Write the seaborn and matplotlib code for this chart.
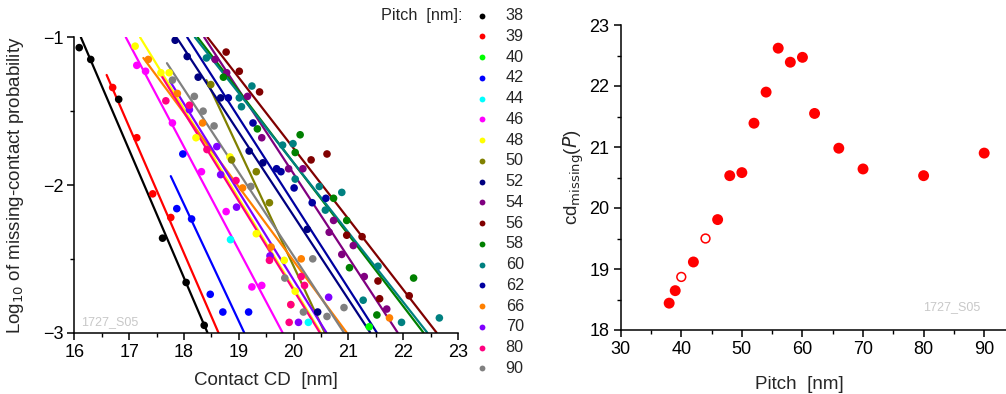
import numpy as np
import pandas as pd
import matplotlib
matplotlib.use("Agg")
import matplotlib.pyplot as plt
from matplotlib.lines import Line2D
from matplotlib.ticker import MultipleLocator
import seaborn as sns

sns.set_theme(style="ticks")
plt.rcParams['font.family'] = ['Liberation Sans', 'DejaVu Sans']
plt.rcParams['axes.unicode_minus'] = True

# ---------------- data: left panel (contact CD vs log10 probability) ----------------
pitches = [38, 39, 40, 42, 44, 46, 48, 50, 52, 54, 56, 58, 60, 62, 66, 70, 80, 90]
colors = ['#000000', '#FF0000', '#00FF00', '#0000FF', '#00FFFF', '#FF00FF', '#FFFF00',
          '#808000', '#000080', '#800080', '#800000', '#008000', '#008080', '#0000A0',
          '#FF8000', '#8000FF', '#FF0080', '#808080']

cd38 = [16.09, 16.30, 16.81, 17.61, 18.04, 18.37]
lp38 = [-1.07, -1.15, -1.42, -2.36, -2.66, -2.95]
cd39 = [16.70, 17.14, 17.43, 17.76]
lp39 = [-1.34, -1.68, -2.06, -2.22]
cd40 = [21.38]
lp40 = [-2.96]
cd42 = [17.98, 17.87, 18.14, 18.48, 18.71, 19.18]
lp42 = [-1.79, -2.16, -2.23, -2.74, -2.86, -2.86]
cd44 = [18.85, 20.27]
lp44 = [-2.37, -2.93]
cd46 = [17.14, 17.30, 17.79, 18.32, 18.77, 19.24, 19.42]
lp46 = [-1.19, -1.23, -1.58, -1.91, -2.18, -2.69, -2.68]
cd48 = [17.11, 17.58, 17.73, 18.22, 18.84, 19.32, 19.83, 20.03, 19.95]
lp48 = [-1.06, -1.24, -1.24, -1.68, -1.81, -2.33, -2.51, -2.72, -2.81]
cd50 = [18.49, 18.87, 19.32, 19.56]
lp50 = [-1.32, -1.83, -1.91, -2.12]
cd52 = [17.84, 18.06, 18.26, 18.67, 19.19, 19.44, 20.25, 20.44]
lp52 = [-1.02, -1.13, -1.27, -1.41, -1.77, -1.85, -2.30, -2.86]
cd54 = [18.57, 18.78, 19.16, 19.42, 19.91, 20.17, 20.65, 20.73, 20.88, 21.09, 21.29, 21.70]
lp54 = [-1.15, -1.24, -1.40, -1.68, -1.89, -1.89, -2.32, -2.24, -2.47, -2.41, -2.62, -2.84]
cd56 = [18.77, 19.01, 19.38, 20.32, 20.61, 20.97, 21.25, 21.54, 21.57, 22.11]
lp56 = [-1.10, -1.23, -1.37, -1.83, -1.79, -2.34, -2.35, -2.65, -2.77, -2.75]
cd58 = [18.72, 19.34, 20.12, 20.03, 20.73, 20.97, 21.02, 22.19, 21.52]
lp58 = [-1.27, -1.62, -1.66, -1.78, -2.09, -2.24, -2.56, -2.63, -2.88]
cd60 = [18.41, 19.01, 19.05, 19.24, 19.80, 19.99, 20.03, 20.47, 20.58, 20.88, 21.27, 21.54, 21.97, 22.66]
lp60 = [-1.14, -1.41, -1.47, -1.33, -1.73, -1.72, -1.96, -2.01, -2.17, -2.05, -2.78, -2.55, -2.93, -2.90]
cd62 = [18.81, 19.26, 19.69, 19.77, 20.01, 20.34, 20.59]
lp62 = [-1.41, -1.58, -1.89, -1.91, -2.02, -2.12, -2.09]
cd66 = [17.35, 17.88, 18.34, 19.07, 19.59, 20.14, 21.75]
lp66 = [-1.15, -1.38, -1.58, -2.02, -2.42, -2.50, -2.90]
cd70 = [18.10, 18.60, 18.67, 18.96, 19.57, 20.64, 20.09]
lp70 = [-1.49, -1.74, -1.93, -2.15, -2.48, -2.76, -2.93]
cd80 = [17.67, 18.10, 18.42, 18.95, 19.56, 20.14, 20.20, 19.92, 19.95]
lp80 = [-1.43, -1.46, -1.76, -1.97, -2.51, -2.62, -2.68, -2.93, -2.81]
cd90 = [17.79, 18.19, 18.35, 18.55, 19.22, 20.35, 19.84, 20.92, 20.61, 20.18]
lp90 = [-1.29, -1.40, -1.50, -1.60, -2.01, -2.50, -2.63, -2.83, -2.89, -2.86]

cd_lists = [cd38, cd39, cd40, cd42, cd44, cd46, cd48, cd50, cd52, cd54, cd56, cd58,
            cd60, cd62, cd66, cd70, cd80, cd90]
lp_lists = [lp38, lp39, lp40, lp42, lp44, lp46, lp48, lp50, lp52, lp54, lp56, lp58,
            lp60, lp62, lp66, lp70, lp80, lp90]

# fitted lines (start point and end point)
fit_pitch = [38, 39, 42, 46, 48, 50, 52, 54, 56, 58, 60, 62, 66, 70, 80, 90]
fit_x0 = [16.12, 16.59, 17.76, 16.94, 17.20, 18.41, 17.90, 18.37, 18.43, 18.25, 18.20, 18.06, 17.26, 17.75, 17.59, 17.69]
fit_y0 = [-1.0, -1.255, -1.94, -1.0, -1.0, -1.29, -1.02, -1.0, -1.0, -1.0, -1.0, -1.0, -1.14, -1.30, -1.26, -1.175]
fit_x1 = [18.43, 18.63, 19.10, 19.80, 20.50, 20.57, 21.40, 21.90, 22.61, 22.37, 22.44, 21.52, 20.97, 20.60, 20.48, 20.92]
fit_y1 = [-3.0] * 16

# ---------------- data: right panel ----------------
pitch_filled = [38, 39, 42, 46, 48, 50, 52, 54, 56, 58, 60, 62, 66, 70, 80, 90]
cdmiss_filled = [18.44, 18.645, 19.115, 19.81, 20.53, 20.58, 21.39, 21.90, 22.62, 22.39,
                 22.47, 21.55, 20.98, 20.64, 20.53, 20.90]
pitch_open = [40, 44]
cdmiss_open = [18.87, 19.50]

# ---------------- build tables ----------------
palette = {str(p): c for p, c in zip(pitches, colors)}
rows = []
for p, xs, ys in zip(pitches, cd_lists, lp_lists):
    for x, y in zip(xs, ys):
        rows.append((str(p), x, y))
pts = pd.DataFrame(rows, columns=['pitch', 'cd', 'lp'])

lrows = []
for p, x0, y0, x1, y1 in zip(fit_pitch, fit_x0, fit_y0, fit_x1, fit_y1):
    lrows.append((str(p), 0, x0, y0))
    lrows.append((str(p), 1, x1, y1))
lines = pd.DataFrame(lrows, columns=['pitch', 'k', 'cd', 'lp'])

W, H = 1006, 394
fig = plt.figure(figsize=(W / 100, H / 100), dpi=100)

def px_axes(x0, y0, x1, y1):
    return fig.add_axes([x0 / W, 1 - y1 / H, (x1 - x0) / W, (y1 - y0) / H])

tick_fs = 13

# ---------------- left panel ----------------
ax1 = px_axes(74.3, 37.3, 458.0, 332.7)
sns.lineplot(data=lines, x='cd', y='lp', hue='pitch', units='pitch', estimator=None,
             sort=False, palette=palette, linewidth=1.6, legend=False, ax=ax1, zorder=2)
sns.scatterplot(data=pts, x='cd', y='lp', hue='pitch', palette=palette, s=30,
                edgecolor='none', linewidth=0, legend=False, ax=ax1, zorder=3)
ax1.set_xlim(16, 23)
ax1.set_ylim(-3, -1)
ax1.xaxis.set_major_locator(MultipleLocator(1))
ax1.xaxis.set_minor_locator(MultipleLocator(0.5))
ax1.yaxis.set_major_locator(MultipleLocator(1))
ax1.yaxis.set_minor_locator(MultipleLocator(0.5))
ax1.set_xlabel('Contact CD  [nm]', fontsize=13.5, labelpad=8)
ax1.set_ylabel('Log$_{10}$ of missing-contact probability', fontsize=13.5)
ax1.yaxis.set_label_coords(-0.125, 0.5)
ax1.text(0.017, 0.035, '1727_S05', transform=ax1.transAxes, fontsize=9,
         color='#c8c8c8', ha='left', va='center')

# ---------------- right panel ----------------
ax2 = px_axes(620.7, 25.0, 1006.0, 330.0)
sns.scatterplot(x=pitch_filled, y=cdmiss_filled, color='#FF0000', s=62,
                edgecolor='none', linewidth=0, ax=ax2, zorder=3)
sns.scatterplot(x=pitch_open, y=cdmiss_open, facecolor='none', edgecolor='#FF0000',
                s=40, linewidth=1.1, ax=ax2, zorder=3)
ax2.set_xlim(30, 93.6)
ax2.set_ylim(18, 23)
ax2.xaxis.set_major_locator(MultipleLocator(10))
ax2.xaxis.set_minor_locator(MultipleLocator(5))
ax2.yaxis.set_major_locator(MultipleLocator(1))
ax2.yaxis.set_minor_locator(MultipleLocator(0.5))
ax2.set_xlabel('Pitch  [nm]', fontsize=13.5)
ax2.xaxis.set_label_coords(0.465, -0.15)
ax2.set_ylabel(r'cd$_{\mathrm{missing}}$($\it{P}$)', fontsize=13.5)
ax2.yaxis.set_label_coords(-0.09, 0.5)
ax2.text(0.86, 0.075, '1727_S05', transform=ax2.transAxes, fontsize=9,
         color='#c8c8c8', ha='center', va='center')

for ax in (ax1, ax2):
    sns.despine(ax=ax)
    for s in ('left', 'bottom'):
        ax.spines[s].set_linewidth(1.1)
        ax.spines[s].set_color('black')
    ax.tick_params(which='major', direction='out', length=5, width=1.1,
                   labelsize=tick_fs, colors='black', pad=3)
    ax.tick_params(which='minor', direction='out', length=3, width=1.0, colors='black')
    ax.set_facecolor('white')

# ---------------- legend ----------------
fs_leg = 11.7
fig.text(462.7 / W, 1 - 15.7 / H, 'Pitch  [nm]:', fontsize=fs_leg, ha='right', va='center')
for i, (p, c) in enumerate(zip(pitches, colors)):
    yy = 15.7 + i * 20.75
    fig.add_artist(Line2D([482.3 / W], [1 - yy / H], marker='o', markersize=4.2,
                          markerfacecolor=c, markeredgecolor='none', linestyle='none',
                          transform=fig.transFigure))
    fig.text(505.7 / W, 1 - yy / H, str(p), fontsize=fs_leg, ha='left', va='center')

fig.savefig('out.png', dpi=100, facecolor='white')
